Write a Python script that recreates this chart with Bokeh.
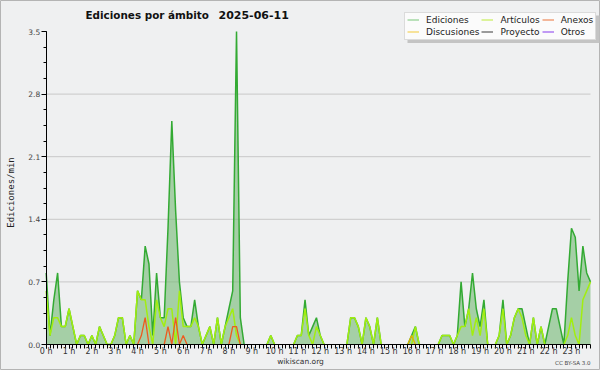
import math
from bokeh.plotting import figure
from bokeh.models import (FixedTicker, CustomJSTickFormatter, PrintfTickFormatter,
                          Label, Legend, LegendItem, Range1d, BoxAnnotation)
from bokeh.embed import file_html
from bokeh.resources import INLINE

# ---- data: edits per minute, one value per 10-minute slot (00:00 .. 23:50) ----
hours = list(range(24))

ediciones = [
    0.8, 0.1, 0.5, 0.8, 0.2, 0.2, 0.4, 0.2, 0.0, 0.1, 0.1, 0.0,   # 0h-1h50
    0.1, 0.0, 0.2, 0.1, 0.0, 0.0, 0.1, 0.3, 0.3, 0.0, 0.1, 0.0,   # 2h-3h50
    0.6, 0.5, 1.1, 0.9, 0.1, 0.8, 0.3, 0.3, 1.3, 2.5, 1.5, 0.7,   # 4h-5h50
    0.3, 0.2, 0.2, 0.5, 0.2, 0.0, 0.1, 0.2, 0.0, 0.3, 0.0, 0.2,   # 6h-7h50
    0.4, 0.6, 3.5, 0.3, 0.0, 0.0, 0.0, 0.0, 0.0, 0.0, 0.0, 0.1,   # 8h-9h50
    0.0, 0.0, 0.0, 0.0, 0.0, 0.0, 0.1, 0.1, 0.5, 0.1, 0.2, 0.3,   # 10h-11h50
    0.1, 0.0, 0.0, 0.0, 0.0, 0.0, 0.0, 0.0, 0.3, 0.3, 0.2, 0.0,   # 12h-13h50
    0.3, 0.2, 0.0, 0.3, 0.0, 0.0, 0.0, 0.0, 0.0, 0.0, 0.0, 0.0,   # 14h-15h50
    0.1, 0.2, 0.0, 0.0, 0.0, 0.0, 0.0, 0.0, 0.1, 0.1, 0.1, 0.0,   # 16h-17h50
    0.1, 0.7, 0.2, 0.4, 0.8, 0.4, 0.2, 0.5, 0.0, 0.0, 0.0, 0.1,   # 18h-19h50
    0.5, 0.0, 0.1, 0.3, 0.4, 0.4, 0.2, 0.0, 0.3, 0.0, 0.2, 0.0,   # 20h-21h50
    0.2, 0.4, 0.4, 0.2, 0.0, 0.7, 1.3, 1.2, 0.6, 1.1, 0.8, 0.7,   # 22h-23h50
]
articulos = [
    0.6, 0.1, 0.3, 0.3, 0.2, 0.2, 0.4, 0.2, 0.0, 0.1, 0.1, 0.0,
    0.1, 0.0, 0.2, 0.1, 0.0, 0.0, 0.1, 0.3, 0.3, 0.0, 0.1, 0.0,
    0.6, 0.5, 0.5, 0.2, 0.0, 0.5, 0.3, 0.2, 0.4, 0.4, 0.0, 0.6,
    0.2, 0.2, 0.2, 0.3, 0.2, 0.0, 0.1, 0.2, 0.0, 0.3, 0.0, 0.2,
    0.3, 0.4, 0.1, 0.0, 0.0, 0.0, 0.0, 0.0, 0.0, 0.0, 0.0, 0.1,
    0.0, 0.0, 0.0, 0.0, 0.0, 0.0, 0.1, 0.1, 0.4, 0.1, 0.0, 0.2,
    0.1, 0.0, 0.0, 0.0, 0.0, 0.0, 0.0, 0.0, 0.3, 0.3, 0.2, 0.0,
    0.3, 0.2, 0.0, 0.3, 0.0, 0.0, 0.0, 0.0, 0.0, 0.0, 0.0, 0.0,
    0.0, 0.2, 0.0, 0.0, 0.0, 0.0, 0.0, 0.0, 0.1, 0.1, 0.1, 0.0,
    0.1, 0.2, 0.2, 0.4, 0.1, 0.3, 0.1, 0.4, 0.0, 0.0, 0.0, 0.1,
    0.4, 0.0, 0.1, 0.3, 0.4, 0.3, 0.1, 0.0, 0.3, 0.0, 0.2, 0.0,
    0.0, 0.0, 0.0, 0.0, 0.0, 0.1, 0.3, 0.1, 0.0, 0.5, 0.6, 0.7,
]
anexos = [
    0.0, 0.0, 0.0, 0.0, 0.0, 0.0, 0.0, 0.0, 0.0, 0.0, 0.0, 0.0,
    0.0, 0.0, 0.0, 0.0, 0.0, 0.0, 0.0, 0.0, 0.0, 0.0, 0.0, 0.0,
    0.0, 0.1, 0.3, 0.0, 0.0, 0.0, 0.0, 0.0, 0.2, 0.0, 0.3, 0.0,
    0.1, 0.0, 0.0, 0.0, 0.0, 0.0, 0.0, 0.0, 0.0, 0.0, 0.0, 0.0,
    0.0, 0.2, 0.2, 0.0, 0.0, 0.0, 0.0, 0.0, 0.0, 0.0, 0.0, 0.0,
    0.0, 0.0, 0.0, 0.0, 0.0, 0.0, 0.0, 0.0, 0.0, 0.0, 0.0, 0.0,
    0.0, 0.0, 0.0, 0.0, 0.0, 0.0, 0.0, 0.0, 0.0, 0.0, 0.0, 0.0,
    0.0, 0.0, 0.0, 0.0, 0.0, 0.0, 0.0, 0.0, 0.0, 0.0, 0.0, 0.0,
    0.0, 0.0, 0.0, 0.0, 0.0, 0.0, 0.0, 0.0, 0.0, 0.0, 0.0, 0.0,
    0.0, 0.0, 0.0, 0.0, 0.0, 0.0, 0.0, 0.0, 0.0, 0.0, 0.0, 0.0,
    0.0, 0.0, 0.0, 0.0, 0.0, 0.0, 0.0, 0.0, 0.0, 0.0, 0.0, 0.0,
    0.0, 0.0, 0.0, 0.0, 0.0, 0.0, 0.0, 0.0, 0.0, 0.0, 0.0, 0.0,
]
discusiones = [
    0.0, 0.0, 0.0, 0.0, 0.0, 0.0, 0.0, 0.0, 0.0, 0.0, 0.0, 0.0,
    0.0, 0.0, 0.0, 0.0, 0.0, 0.0, 0.0, 0.0, 0.0, 0.0, 0.0, 0.0,
    0.0, 0.0, 0.0, 0.0, 0.0, 0.0, 0.0, 0.0, 0.0, 0.0, 0.0, 0.0,
    0.0, 0.0, 0.0, 0.0, 0.0, 0.0, 0.0, 0.0, 0.0, 0.0, 0.0, 0.0,
    0.0, 0.0, 0.0, 0.0, 0.0, 0.0, 0.0, 0.0, 0.0, 0.0, 0.0, 0.0,
    0.0, 0.0, 0.0, 0.0, 0.0, 0.0, 0.0, 0.0, 0.0, 0.0, 0.0, 0.0,
    0.0, 0.0, 0.0, 0.0, 0.0, 0.0, 0.0, 0.0, 0.0, 0.0, 0.0, 0.0,
    0.0, 0.0, 0.0, 0.0, 0.0, 0.0, 0.0, 0.0, 0.0, 0.0, 0.0, 0.0,
    0.1, 0.0, 0.0, 0.0, 0.0, 0.0, 0.0, 0.0, 0.0, 0.0, 0.0, 0.0,
    0.0, 0.0, 0.0, 0.0, 0.0, 0.0, 0.0, 0.0, 0.0, 0.0, 0.0, 0.0,
    0.0, 0.0, 0.0, 0.0, 0.0, 0.0, 0.0, 0.0, 0.0, 0.0, 0.0, 0.0,
    0.0, 0.0, 0.0, 0.0, 0.0, 0.0, 0.0, 0.0, 0.0, 0.0, 0.0, 0.0,
]
proyecto = [0.0] * 144
otros = [0.0] * 144

legend_names = ["Ediciones", "Artículos", "Anexos", "Discusiones", "Proyecto", "Otros"]
legend_colors = ["#8fd08f", "#c8ef5a", "#ef8a5a", "#f5d35a", "#5a5a5a", "#9a5af0"]
y_ticks = [0, 0.7, 1.4, 2.1, 2.8, 3.5]
y_max = 3.5

# ---- layout (pixels) ----
W, H = 600, 370
PLOT_L, PLOT_R = 45.7, 590.0     # x pixel of first / last sample
PLOT_T, PLOT_B = 31.0, 344.0     # y pixel of y_max / 0

n = len(ediciones)
t = [i / 6 for i in range(n)]
t_end = t[-1]

px_per_x = (PLOT_R - PLOT_L) / t_end
px_per_y = (PLOT_B - PLOT_T) / y_max
x_range = Range1d(-PLOT_L / px_per_x, t_end + (W - PLOT_R) / px_per_x)
y_range = Range1d(-(H - PLOT_B) / px_per_y, y_max + PLOT_T / px_per_y)


def masked(vals):
    """hide runs of zeros so lines are not drawn along the baseline"""
    out = []
    for i, v in enumerate(vals):
        prev = vals[i - 1] if i > 0 else 0.0
        nxt = vals[i + 1] if i < len(vals) - 1 else 0.0
        out.append(float("nan") if (v == 0 and prev == 0 and nxt == 0) else v)
    return out


p = figure(width=W, height=H, output_backend="svg", toolbar_location=None, title=None,
           x_range=x_range, y_range=y_range,
           min_border_left=0, min_border_right=0, min_border_top=0, min_border_bottom=0)
p.background_fill_color = "#eff0f1"
p.border_fill_color = "#eff0f1"
p.outline_line_color = "#b4b4b4"

# axes drawn at x=0 / y=0 inside the frame
p.yaxis.fixed_location = 0
p.yaxis.bounds = (0, y_max)
p.yaxis.ticker = FixedTicker(ticks=y_ticks, minor_ticks=[k * 0.175 for k in range(21)])
p.yaxis.formatter = PrintfTickFormatter(format="%.1f")
p.yaxis.major_tick_out = 5
p.yaxis.major_tick_in = 0
p.yaxis.minor_tick_out = 3
p.yaxis.minor_tick_in = 0
p.yaxis.major_label_text_font = "DejaVu Sans"
p.yaxis.major_label_text_font_size = "7.5px"
p.yaxis.major_label_text_color = "#444444"
p.yaxis.major_label_standoff = 1
p.yaxis.axis_line_color = "black"

p.xaxis.fixed_location = 0
p.xaxis.bounds = (0, t_end)
p.xaxis.ticker = FixedTicker(ticks=hours, minor_ticks=t)
p.xaxis.formatter = CustomJSTickFormatter(code="return tick + ' h';")
p.xaxis.major_tick_out = 4
p.xaxis.major_tick_in = 0
p.xaxis.minor_tick_out = 4
p.xaxis.minor_tick_in = 0
p.xaxis.major_label_text_font = "DejaVu Sans"
p.xaxis.major_label_text_font_size = "8px"
p.xaxis.major_label_text_color = "#333333"
p.xaxis.major_label_standoff = -2
p.xaxis.axis_line_color = "black"

p.xgrid.visible = False
p.ygrid.visible = False
# horizontal grid lines only across the plotting area
grid_vals = y_ticks[1:-1]
p.segment(x0=[0] * len(grid_vals), x1=[t_end] * len(grid_vals), y0=grid_vals, y1=grid_vals,
          line_color="#c8c8c8", line_width=1)

# series
p.varea(x=t, y1=0, y2=ediciones, fill_color="#77bb77", fill_alpha=0.62)
p.line(t, masked(proyecto), line_color="#555555", line_width=1.2)
p.line(t, masked(otros), line_color="#9955ee", line_width=1.2)
p.line(t, masked(ediciones), line_color="#33aa33", line_width=1.5)
p.line(t, masked(articulos), line_color="#a2ee10", line_width=1.5)
p.line(t, masked(discusiones), line_color="#e2b400", line_width=1.3)
p.line(t, masked(anexos), line_color="#ee5a1e", line_width=1.3)

# legend shadow + legend
p.add_layout(BoxAnnotation(left=407, right=599, top=H - 15, bottom=H - 42.5,
                           left_units="screen", right_units="screen",
                           top_units="screen", bottom_units="screen",
                           fill_color="#c4c4c4", fill_alpha=1.0, line_color=None))
items = []
for name, col in zip(legend_names, legend_colors):
    r = p.line([float("nan")], [float("nan")], line_color=col, line_width=1.2)
    items.append(LegendItem(label=name, renderers=[r]))
legend = Legend(items=items, location=(404, H - 39.5), orientation="horizontal", ncols=3,
                label_text_font="DejaVu Sans", label_text_font_size="9px",
                label_text_color="#222222", glyph_width=12, glyph_height=9,
                label_height=9, label_standoff=7, spacing=2, padding=2, margin=0,
                border_line_color="#bbbbbb", background_fill_color="#fbfbfb",
                background_fill_alpha=1.0)
p.add_layout(legend, "center")

# texts
p.add_layout(Label(x=85, y=H - 14, x_units="screen", y_units="screen",
                   text="Ediciones por ámbito", text_font="DejaVu Sans", text_font_style="bold",
                   text_font_size="10.4px", text_color="#111111", text_baseline="middle",
                   text_align="left"))
p.add_layout(Label(x=218, y=H - 14, x_units="screen", y_units="screen",
                   text="2025-06-11", text_font="DejaVu Sans", text_font_style="bold",
                   text_font_size="11px", text_color="#111111", text_baseline="middle",
                   text_align="left"))
p.add_layout(Label(x=10, y=H - 192, x_units="screen", y_units="screen", angle=math.pi / 2,
                   text="Ediciones/min", text_font="DejaVu Sans Mono", text_font_size="9px",
                   text_color="#222222", text_baseline="middle", text_align="center"))
p.add_layout(Label(x=300, y=H - 361, x_units="screen", y_units="screen",
                   text="wikiscan.org", text_font="DejaVu Sans", text_font_size="7.5px",
                   text_color="#333333", text_baseline="middle", text_align="center"))
p.add_layout(Label(x=590, y=H - 362, x_units="screen", y_units="screen",
                   text="CC BY-SA 3.0", text_font="DejaVu Sans", text_font_size="5.5px",
                   text_color="#444444", text_baseline="middle", text_align="right"))

open("out.html", "w").write(file_html(p, INLINE))
